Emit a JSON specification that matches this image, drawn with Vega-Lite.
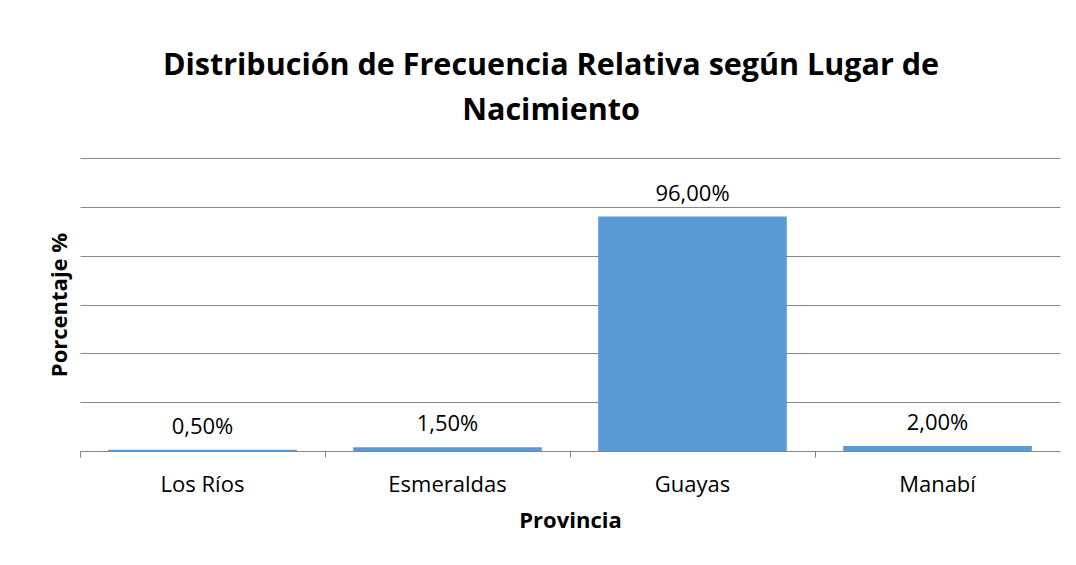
{
  "$schema": "https://vega.github.io/schema/vega-lite/v6.json",
  "width": 980,
  "height": 293,
  "autosize": {"type": "none"},
  "padding": {"left": 80, "top": 158, "right": 16, "bottom": 114},
  "background": "white",
  "config": {
    "locale": {"number": {"decimal": ",", "thousands": ".", "grouping": [3], "currency": ["$", ""]}},
    "view": {"stroke": null},
    "font": "Open Sans"
  },
  "title": {
    "text": ["Distribución de Frecuencia Relativa según Lugar de", "Nacimiento"],
    "font": "Open Sans",
    "fontSize": 30.5,
    "fontWeight": "bold",
    "color": "#000000",
    "lineHeight": 45,
    "anchor": "middle",
    "dx": -19,
    "offset": 32
  },
  "data": {
    "values": [
      {"provincia": "Los Ríos", "pct": 0.005},
      {"provincia": "Esmeraldas", "pct": 0.015},
      {"provincia": "Guayas", "pct": 0.96},
      {"provincia": "Manabí", "pct": 0.02}
    ]
  },
  "encoding": {
    "x": {
      "field": "provincia",
      "type": "nominal",
      "sort": null,
      "scale": {"paddingInner": 0, "paddingOuter": 0},
      "axis": {
        "title": "Provincia",
        "titleFont": "Open Sans",
        "titleFontSize": 22,
        "titleFontWeight": "bold",
        "titleColor": "#000000",
        "titlePadding": 15,
        "labelFont": "Open Sans",
        "labelFontSize": 22,
        "labelColor": "#000000",
        "labelAngle": 0,
        "labelPadding": 17,
        "bandPosition": 0,
        "tickSize": 6,
        "tickColor": "#868686",
        "domain": false,
        "grid": false
      }
    },
    "y": {
      "field": "pct",
      "type": "quantitative",
      "scale": {"domain": [0, 1.2], "nice": false},
      "axis": {
        "title": "Porcentaje %",
        "titleFont": "Open Sans",
        "titleFontSize": 22,
        "titleFontWeight": "bold",
        "titleColor": "#000000",
        "titlePadding": 9,
        "values": [0, 0.2, 0.4, 0.6, 0.8, 1.0, 1.2],
        "labels": false,
        "ticks": false,
        "domain": false,
        "grid": true,
        "gridColor": "#868686",
        "gridWidth": 1
      }
    }
  },
  "layer": [
    {
      "mark": {"type": "bar", "color": "#5B9BD5", "width": {"band": 0.77}}
    },
    {
      "mark": {"type": "text", "baseline": "bottom", "dy": -11, "fontSize": 22, "font": "Open Sans", "color": "#000000"},
      "encoding": {
        "text": {"field": "pct", "type": "quantitative", "format": ".2%"}
      }
    }
  ]
}
